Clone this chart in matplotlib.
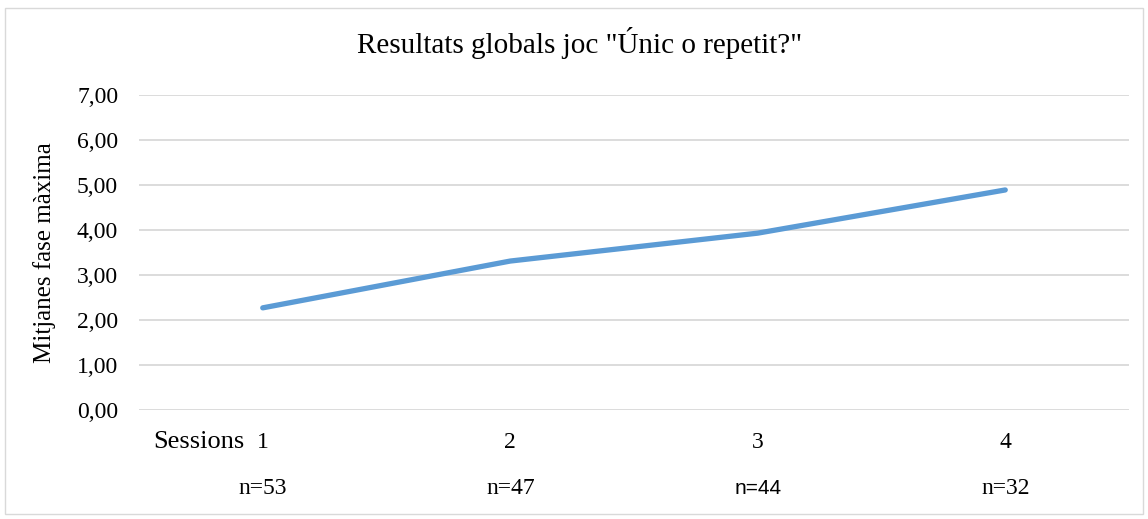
import matplotlib
import matplotlib.pyplot as plt
from matplotlib.patches import Rectangle
from matplotlib.ticker import FuncFormatter, MultipleLocator

matplotlib.use("Agg")

sessions = [1, 2, 3, 4]
mitjanes = [2.27, 3.31, 3.93, 4.89]
n_labels = ["n=53", "n=47", "n=44", "n=32"]
n_fonts = ["Liberation Serif", "Liberation Serif", "Liberation Sans", "Liberation Serif"]

plt.rcParams["font.family"] = ["Liberation Serif", "DejaVu Serif"]

fig = plt.figure(figsize=(11.48, 5.19), dpi=100)
ax = fig.add_axes([139 / 1148, 1 - 410 / 519, 990 / 1148, 315 / 519])

ax.plot(sessions, mitjanes, color="#5B9BD5", linewidth=3.8, solid_capstyle="round")

ax.set_xlim(0.5, 4.5)
ax.set_ylim(0, 7)
ax.yaxis.set_major_locator(MultipleLocator(1))
ax.yaxis.set_major_formatter(FuncFormatter(lambda v, p: f"{v:.2f}".replace(".", ",")))
ax.grid(axis="y", color="#D9D9D9", linewidth=1.3)
ax.set_axisbelow(True)
for s in ax.spines.values():
    s.set_visible(False)
ax.tick_params(axis="both", length=0, labelsize=17)
ax.tick_params(axis="y", pad=15)
ax.tick_params(axis="x", pad=16)
ax.set_xticks(sessions)
ax.set_xticklabels([str(s) for s in sessions])

trans = ax.get_xaxis_transform()
ax.text(0.925, -0.1, "Sessions", transform=trans, ha="right", va="center", fontsize=19)
for x, lab, fam in zip(sessions, n_labels, n_fonts):
    ax.text(x, -0.25, lab, transform=trans, ha="center", va="center",
            fontsize=17 if fam.endswith("Serif") else 15, family=fam)

ax.set_ylabel("Mitjanes fase màxima", fontsize=18, labelpad=15)
fig.text(580 / 1148, 1 - 43 / 519, 'Resultats globals joc "Únic o repetit?"',
         ha="center", va="center", fontsize=21)

fig.patches.append(Rectangle((5 / 1148, 5 / 519), 1138 / 1148, 506 / 519,
                             transform=fig.transFigure, fill=False,
                             edgecolor="#D9D9D9", linewidth=1))

fig.savefig("out.png", dpi=100)
plt.close(fig)
